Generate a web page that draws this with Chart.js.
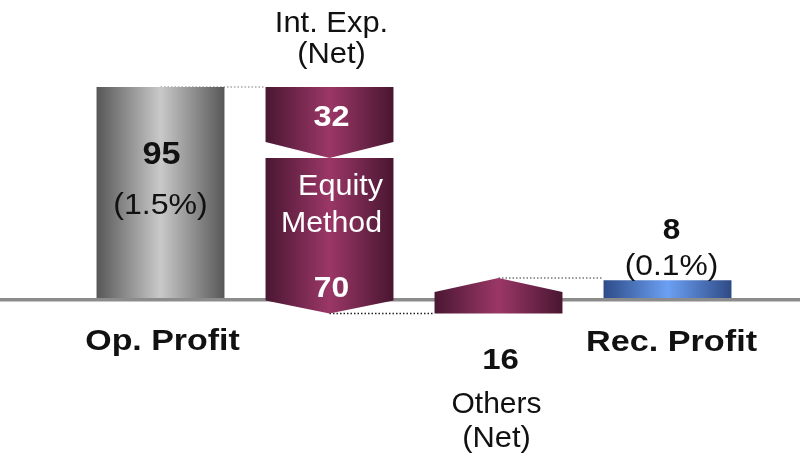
<!DOCTYPE html>
<html>
<head>
<meta charset="utf-8">
<script src="https://cdn.jsdelivr.net/npm/chart.js@4.4.0/dist/chart.umd.min.js"></script>
<style>
  html, body { margin: 0; padding: 0; background: #fff; }
  #wrap { width: 800px; height: 459px; }
</style>
</head>
<body>
<div id="wrap"><canvas id="bridge"></canvas></div>
<script>
// bridge: Op. Profit -> Rec. Profit
const columns = ['Op. Profit', 'Int. Exp. / Equity Method', 'Others (Net)', 'Rec. Profit'];
const steps = [95, -32, -70, 16];   // op profit, int. exp., equity method, others
const recProfit = 8;
const valueLabels = ['95', '32', '70', '16', '8'];
const ratioLabels = ['(1.5%)', '(0.1%)'];

// running totals -> floating ranges
let run = 0;
const ranges = steps.map(s => {
  const r = [run, run + s];
  run += s;
  return r;
});

const mainData = [ranges[0], ranges[1], ranges[3], [0, recProfit]];
const equityData = [null, ranges[2], null, null];

const FONT = '"Liberation Sans", Arial, sans-serif';
const gray = ['#575757', '#c9c9c9', '#585858'];
const maroon = ['#4a1732', '#9b3767', '#491631'];
const blue = ['#2d4b88', '#6ca0f3', '#2e4a85'];

function block(ctx, x, w, yStart, yEnd, tip, stops) {
  const l = x - w / 2, r = x + w / 2;
  const g = ctx.createLinearGradient(l, 0, r, 0);
  g.addColorStop(0, stops[0]);
  g.addColorStop(0.5, stops[1]);
  g.addColorStop(1, stops[2]);
  const d = yEnd > yStart ? 1 : -1;
  ctx.save();
  ctx.fillStyle = g;
  ctx.beginPath();
  ctx.moveTo(l, yStart);
  ctx.lineTo(r, yStart);
  if (tip) {
    ctx.lineTo(r, yEnd - d * tip);
    ctx.lineTo(x, yEnd);
    ctx.lineTo(l, yEnd - d * tip);
  } else {
    ctx.lineTo(r, yEnd);
    ctx.lineTo(l, yEnd);
  }
  ctx.closePath();
  ctx.fill();
  ctx.restore();
}

// centred text, stretched a little sideways like the original
function text(ctx, str, cx, y, font, color, sx) {
  ctx.save();
  ctx.translate(cx, y);
  ctx.scale(sx, 1);
  ctx.font = font;
  ctx.fillStyle = color;
  ctx.textAlign = 'center';
  ctx.textBaseline = 'alphabetic';
  ctx.fillText(str, 0, 0);
  ctx.restore();
}

function dotted(ctx, x1, x2, y, color) {
  ctx.save();
  ctx.strokeStyle = color;
  ctx.lineWidth = 1.5;
  ctx.setLineDash([1.5, 2]);
  ctx.beginPath();
  ctx.moveTo(x1, y);
  ctx.lineTo(x2, y);
  ctx.stroke();
  ctx.restore();
}

const bridgePlugin = {
  id: 'bridge',
  beforeDatasetsDraw(chart) {
    const ctx = chart.ctx;
    const ys = chart.scales.y;
    const bars = chart.getDatasetMeta(0).data;
    const eq = chart.getDatasetMeta(1).data[1];
    const zero = ys.getPixelForValue(0);

    // axis line
    ctx.save();
    ctx.fillStyle = '#8c8c8c';
    ctx.fillRect(0, zero, chart.width, 3.5);
    ctx.restore();

    // connectors
    dotted(ctx, bars[0].x, bars[1].x - bars[1].width / 2, ys.getPixelForValue(ranges[0][1]), '#a8a8a8');
    dotted(ctx, eq.x, bars[2].x - bars[2].width / 2, ys.getPixelForValue(ranges[2][1]), '#222');
    dotted(ctx, bars[2].x, bars[3].x - bars[3].width / 2, ys.getPixelForValue(ranges[3][1]), '#777');
  },
  afterDatasetsDraw(chart) {
    const ctx = chart.ctx;
    const ys = chart.scales.y;
    const bars = chart.getDatasetMeta(0).data;
    const eq = chart.getDatasetMeta(1).data[1];
    const px = v => ys.getPixelForValue(v);

    block(ctx, bars[0].x, bars[0].width, px(mainData[0][0]), px(mainData[0][1]), 0, gray);
    block(ctx, bars[1].x, bars[1].width, px(mainData[1][0]), px(mainData[1][1]), 16, maroon);
    block(ctx, eq.x, eq.width, px(equityData[1][0]), px(equityData[1][1]), 13, maroon);
    block(ctx, bars[2].x, bars[2].width, px(mainData[2][0]), px(mainData[2][1]), 14, maroon);
    block(ctx, bars[3].x, bars[3].width, px(mainData[3][0]), px(mainData[3][1]), 0, blue);

    const big = 'bold 32px ' + FONT;
    const bold = 'bold 30px ' + FONT;
    const reg = '30px ' + FONT;
    // Op. Profit
    text(ctx, valueLabels[0], bars[0].x + 1, 164, big, '#111', 1.07);
    text(ctx, ratioLabels[0], bars[0].x, 214, reg, '#111', 1.07);
    text(ctx, columns[0], bars[0].x + 2, 350, bold, '#111', 1.13);
    // Int. Exp.
    text(ctx, 'Int. Exp.', bars[1].x + 2, 32, reg, '#111', 1.03);
    text(ctx, '(Net)', bars[1].x + 2, 63, reg, '#111', 1.03);
    text(ctx, valueLabels[1], bars[1].x + 2, 126, bold, '#fff', 1.08);
    // Equity Method
    text(ctx, 'Equity', eq.x + 11, 195, reg, '#fff', 1.02);
    text(ctx, 'Method', eq.x + 2, 232, reg, '#fff', 1.01);
    text(ctx, valueLabels[2], eq.x + 2, 297, bold, '#fff', 1.06);
    // Others
    text(ctx, valueLabels[3], bars[2].x + 2, 369, bold, '#111', 1.1);
    text(ctx, 'Others', bars[2].x - 2, 413, reg, '#111', 1.0);
    text(ctx, '(Net)', bars[2].x - 2, 447, reg, '#111', 1.03);
    // Rec. Profit
    text(ctx, valueLabels[4], bars[3].x + 4, 239, bold, '#111', 1.05);
    text(ctx, ratioLabels[1], bars[3].x + 4, 275, reg, '#111', 1.06);
    text(ctx, columns[3], bars[3].x + 4, 351, bold, '#111', 1.14);
  }
};

new Chart(document.getElementById('bridge').getContext('2d'), {
  type: 'bar',
  data: {
    labels: columns,
    datasets: [
      { data: mainData, backgroundColor: 'rgba(0,0,0,0)', borderWidth: 0, grouped: false },
      { data: equityData, backgroundColor: 'rgba(0,0,0,0)', borderWidth: 0, grouped: false }
    ]
  },
  options: {
    responsive: true,
    maintainAspectRatio: false,
    animation: false,
    barPercentage: 0.757,
    categoryPercentage: 1,
    layout: { padding: { left: 76, right: 48, top: 0, bottom: 0 } },
    plugins: { legend: { display: false }, tooltip: { enabled: false } },
    scales: {
      x: { display: false },
      y: { display: false, min: -72.49, max: 134.17 }
    }
  },
  plugins: [bridgePlugin]
});
</script>
</body>
</html>
